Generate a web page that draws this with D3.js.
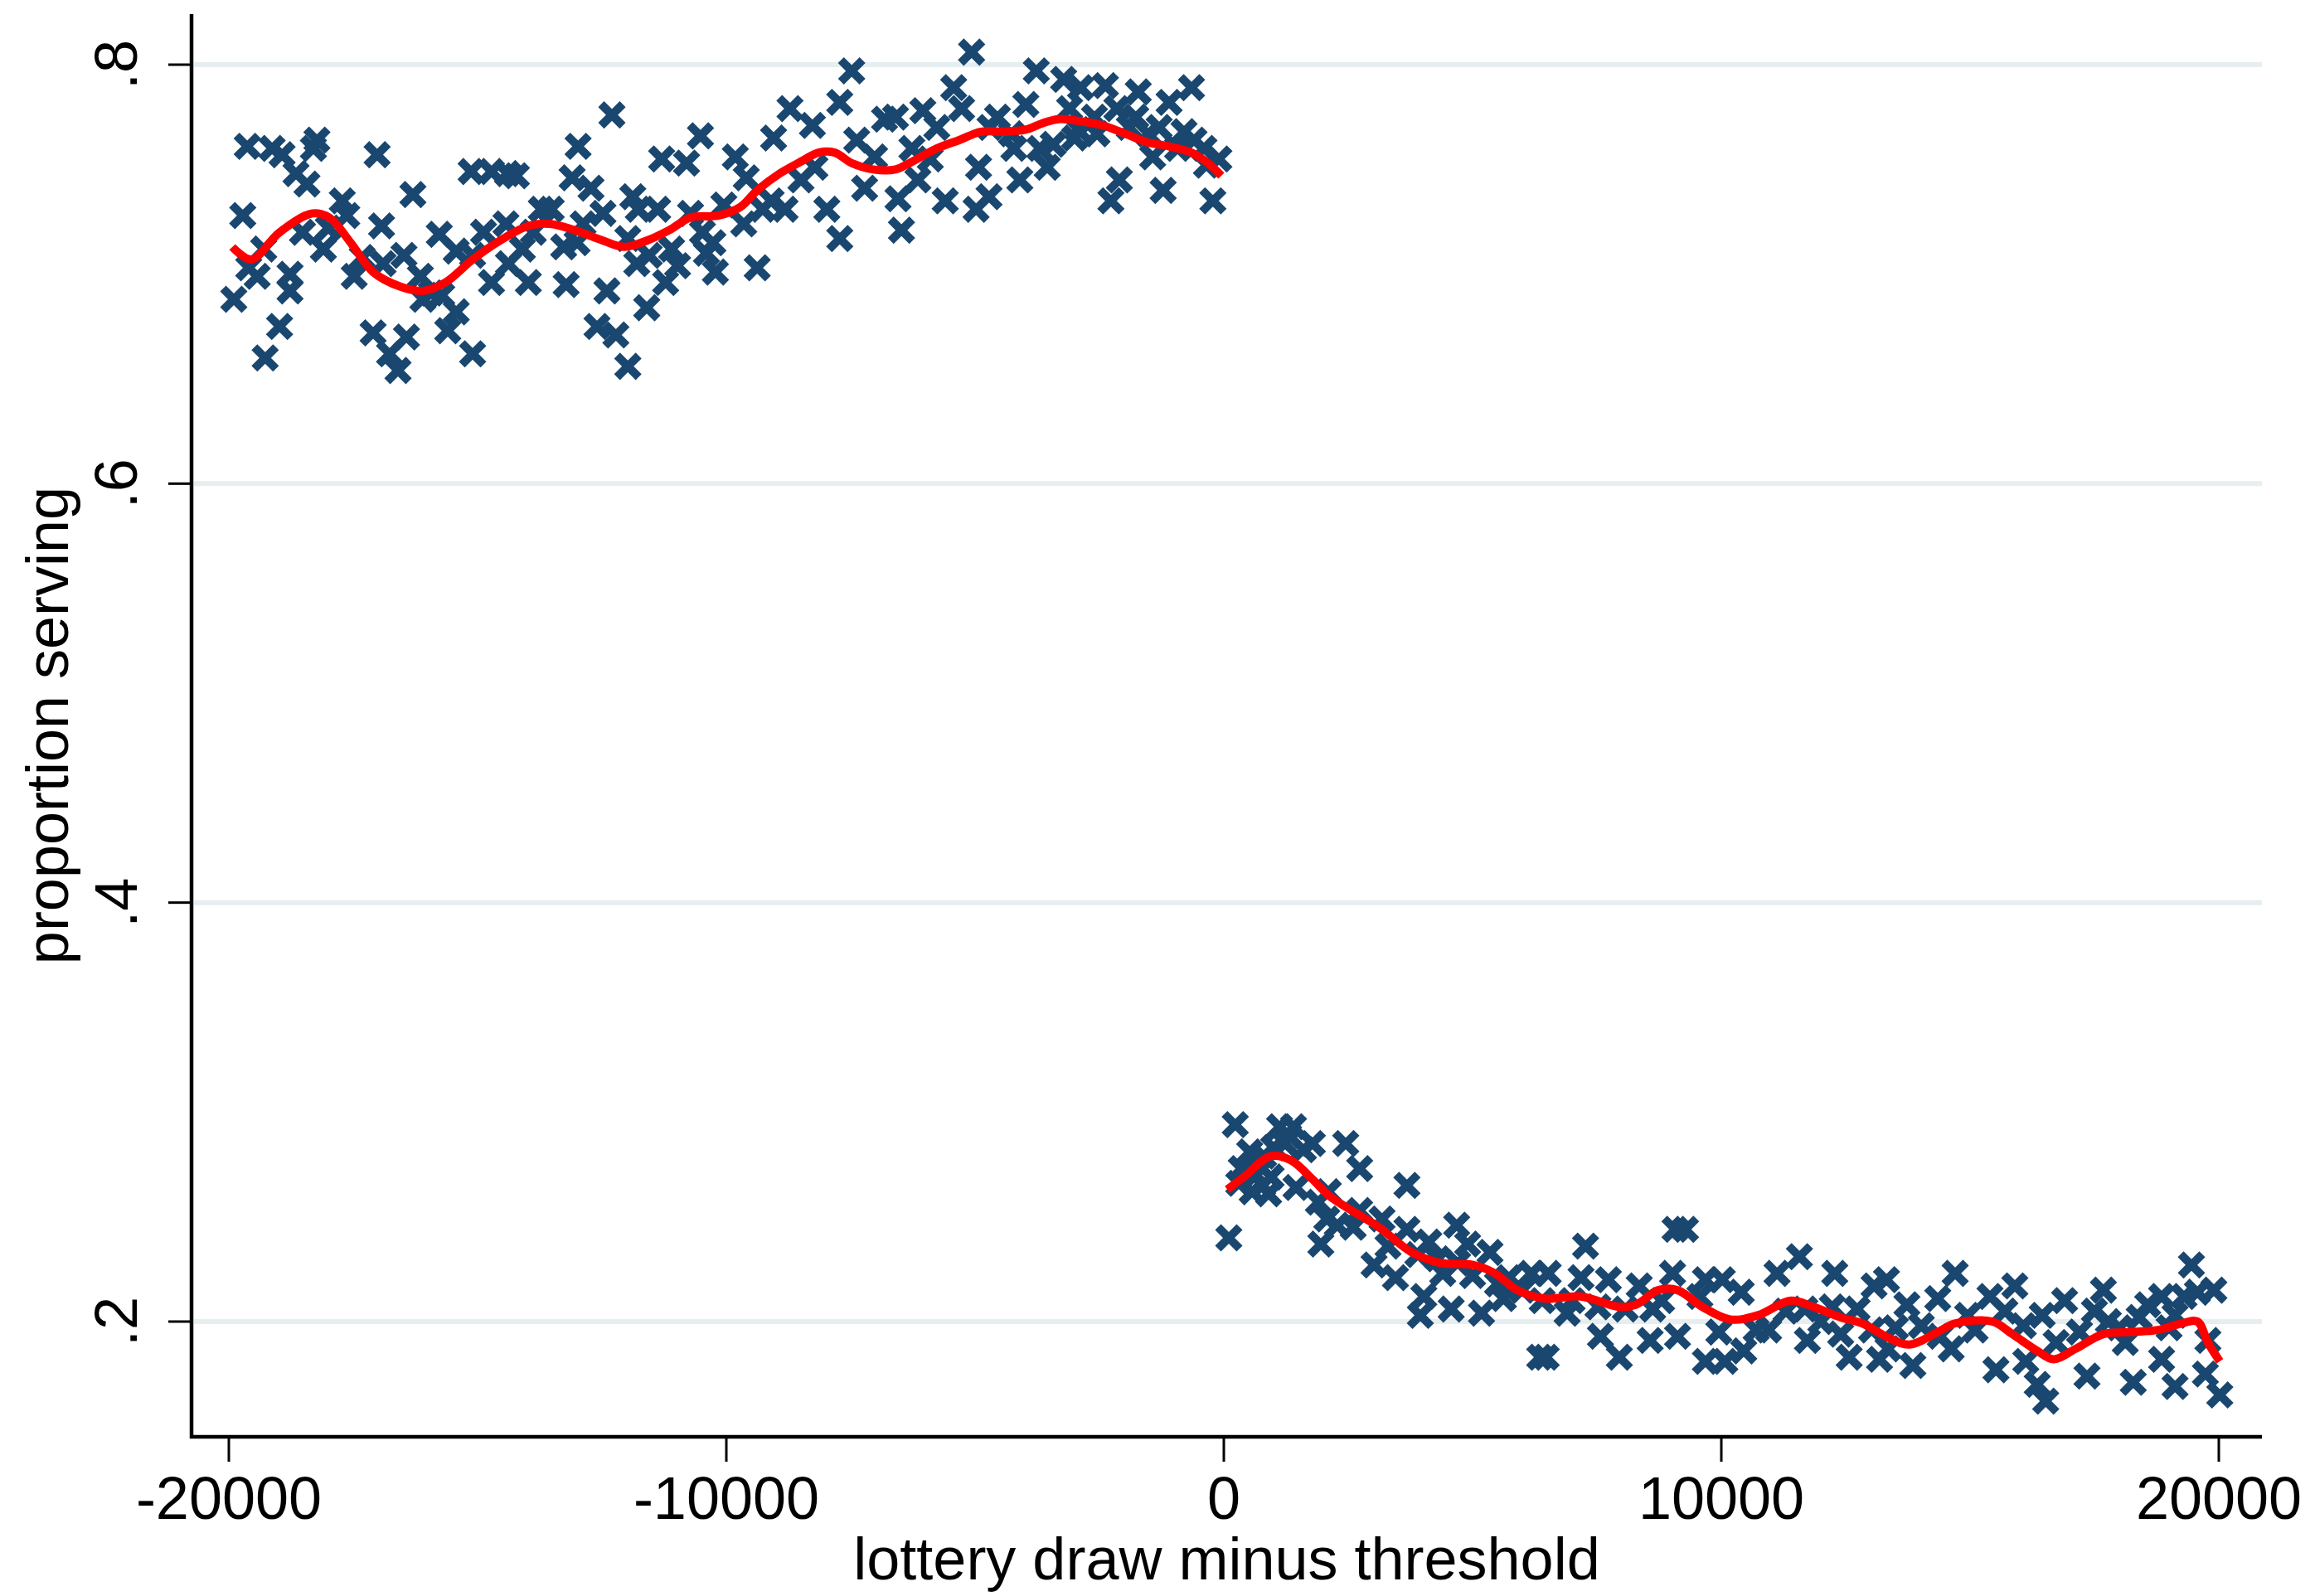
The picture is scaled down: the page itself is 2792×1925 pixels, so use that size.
<!DOCTYPE html>
<html>
<head>
<meta charset="utf-8">
<title>proportion serving vs lottery draw</title>
<script src="https://cdn.jsdelivr.net/npm/d3@7"></script>
<style>
  html, body { margin: 0; padding: 0; background: #fff; }
  svg text { font-family: "Liberation Sans", Arial, sans-serif; fill: #000; }
</style>
</head>
<body>
<svg id="chart" width="2792" height="1925"></svg>
<script>
// ticks
var xTicks = [-20000, -10000, 0, 10000, 20000];
var yTicks = [0.2, 0.4, 0.6, 0.8];
var yTickLabels = ['.2', '.4', '.6', '.8'];

// binned means, left of threshold [x, proportion]
var leftBins = [
  [-19630,0.761],[-19130,0.760],[-18930,0.757],[-18230,0.764],[-18300,0.760],[-18650,0.748],[-18430,0.743],
  [-19720,0.728],[-17020,0.757],[-16300,0.738],[-15130,0.749],[-14720,0.749],[-14400,0.748],[-14220,0.747],
  [-17720,0.735],[-17630,0.728],[-16930,0.723],[-18100,0.712],[-18520,0.720],[-17320,0.708],[-17480,0.699],
  [-16480,0.709],[-16150,0.699],[-15930,0.691],[-15770,0.719],[-15430,0.711],[-14880,0.720],[-14430,0.724],
  [-13720,0.731],[-13880,0.720],[-14380,0.705],[-14720,0.696],[-13980,0.696],[-19600,0.703],[-19430,0.699],
  [-19900,0.688],[-18770,0.700],[-18770,0.692],[-18980,0.675],[-19270,0.660],[-17100,0.672],[-16770,0.662],
  [-16600,0.654],[-16430,0.670],[-15600,0.673],[-15430,0.682],[-15100,0.662],[-16100,0.688],[-15720,0.690],
  [-15100,0.709],
  [-12300,0.776],[-12980,0.761],[-13100,0.746],[-12720,0.741],[-13520,0.731],[-13270,0.713],[-12480,0.729],
  [-12880,0.724],[-11880,0.737],[-11770,0.731],[-11380,0.731],[-11300,0.755],[-10800,0.753],[-10520,0.766],
  [-11980,0.717],[-11550,0.709],[-11100,0.712],[-11220,0.696],[-10980,0.704],[-10720,0.729],[-10480,0.720],
  [-10270,0.715],[-10050,0.733],[-10220,0.701],[-9820,0.756],[-9600,0.746],[-9650,0.724],[-9380,0.703],
  [-9270,0.731],[-9050,0.765],[-8820,0.731],[-8720,0.779],[-8270,0.771],[-8220,0.751],[-7980,0.731],
  [-7720,0.717],[-7720,0.782],[-7480,0.797],[-7380,0.764],[-7220,0.741],[-6820,0.774],[-13220,0.695],
  [-12400,0.692],[-12600,0.675],[-12220,0.671],[-11980,0.656],[-11600,0.684],
  [-5070,0.806],[-3770,0.797],[-3220,0.793],[-2880,0.789],[-2380,0.790],[-1720,0.787],[-650,0.789],
  [-1100,0.782],[-5430,0.789],[-5270,0.779],[-6050,0.778],[-5770,0.770],[-6600,0.775],[-4550,0.775],
  [-3980,0.781],[-3430,0.762],[-2930,0.769],[-2550,0.767],[-2150,0.779],[-1770,0.775],[-1430,0.756],
  [-930,0.760],[-600,0.764],[-100,0.755],[-1220,0.740],[-220,0.735],[-2270,0.735],[-2100,0.745],
  [-4930,0.751],[-4220,0.760],[-4100,0.745],[-3550,0.751],[-4720,0.737],[-4980,0.731],[-5600,0.735],
  [-6150,0.745],[-6550,0.736],[-6480,0.721],[-6270,0.760],[-3100,0.779],[-1520,0.767],[-7020,0.756],
  [-350,0.752],[-4270,0.767],
  [-3000,0.765],[-2600,0.775],[-1900,0.770],[-1300,0.770],[-800,0.768],[-400,0.760],[-4700,0.770],
  [-5900,0.755],[-3700,0.760],[-8500,0.745],[-9100,0.735],[-10400,0.710],[-11800,0.705],[-13000,0.715],
  [-14100,0.712],[-16900,0.705],[-18000,0.722],[-19300,0.712]
];

// binned means, right of threshold
var rightBins = [
  [230,0.294],[100,0.240],[520,0.281],[350,0.273],[570,0.262],[780,0.265],[1120,0.293],[1400,0.293],
  [1230,0.285],[1780,0.285],[950,0.269],[1450,0.264],[2450,0.285],[2730,0.273],[1900,0.257],[2280,0.246],
  [1950,0.237],[3180,0.249],[3680,0.265],[3020,0.227],[3450,0.221],[3680,0.244],[4120,0.238],[4680,0.246],
  [4900,0.237],[5350,0.233],[4400,0.223],[4020,0.212],[3950,0.203],[4570,0.206],[5180,0.204],[5620,0.211],
  [5730,0.221],[6180,0.223],[6400,0.210],[6350,0.183],[900,0.261],[2730,0.253],[2070,0.249],
  [7270,0.236],[9070,0.244],[9280,0.244],[6520,0.223],[7180,0.221],[7730,0.220],[8350,0.217],[9020,0.223],
  [6900,0.204],[7520,0.207],[8070,0.206],[8620,0.206],[7570,0.193],[7950,0.183],[8570,0.191],[9120,0.193],
  [6480,0.183],[9680,0.220],[10020,0.220],[9950,0.195],[9680,0.181],[10070,0.181],[10450,0.186],
  [10950,0.196],[11120,0.223],[11570,0.231],[11680,0.206],[11730,0.191],[12280,0.223],[12230,0.207],
  [12400,0.194],[12570,0.183],[13070,0.217],[13020,0.196],[13180,0.182],[10400,0.214],[9570,0.212],
  [12730,0.206],
  [13320,0.220],[14700,0.223],[14350,0.211],[14020,0.198],[13350,0.187],[13850,0.179],[14620,0.187],
  [14950,0.203],[15400,0.212],[15900,0.217],[15520,0.177],[16120,0.181],[16350,0.170],[16520,0.162],
  [16450,0.203],[16900,0.210],[17350,0.174],[17680,0.215],[17780,0.200],[18120,0.190],[18280,0.171],
  [18570,0.208],[18850,0.212],[18850,0.182],[19120,0.169],[19450,0.227],[19900,0.215],[19780,0.191],
  [19730,0.175],[20020,0.165],[19120,0.203],[13730,0.208],[16070,0.198],[16730,0.190],[18400,0.202],
  [19570,0.214],
  [300,0.266],[650,0.270],[800,0.279],[1000,0.283],[1300,0.289],[1600,0.282],[2100,0.262],[2600,0.245],
  [3300,0.236],[3900,0.232],[4300,0.230],[4700,0.228],[5000,0.222],[5500,0.218],[6000,0.215],[7000,0.210],
  [8800,0.210],[10700,0.196],[11300,0.205],[12000,0.200],[13500,0.197],[14400,0.193],[15100,0.196],
  [15700,0.205],[17200,0.195],[17500,0.205],[18000,0.197],[19000,0.197],[19300,0.212]
];

// smoothed fits on each side
var leftFit = [
  [-19930,0.713],[-19550,0.707],[-18980,0.720],[-18320,0.729],[-17980,0.727],[-17550,0.715],[-17100,0.701],
  [-16550,0.694],[-16100,0.692],[-15650,0.696],[-15100,0.707],[-14550,0.716],[-13980,0.723],[-13550,0.724],
  [-13050,0.721],[-12480,0.716],[-12050,0.713],[-11600,0.716],[-11150,0.721],[-10720,0.727],[-10150,0.728],
  [-9720,0.732],[-9380,0.740],[-8930,0.748],[-8480,0.754],[-8150,0.758],[-7820,0.758],[-7480,0.753],
  [-7050,0.750],[-6600,0.750],[-6320,0.753],[-5770,0.760],[-5320,0.764],[-4880,0.768],[-4430,0.768],
  [-3980,0.769],[-3650,0.772],[-3320,0.774],[-2880,0.773],[-2430,0.771],[-1980,0.767],[-1550,0.763],
  [-1100,0.761],[-650,0.758],[-320,0.753],[-50,0.747]
];
var rightFit = [
  [70,0.263],[400,0.269],[950,0.279],[1350,0.277],[1780,0.268],[2120,0.260],[2570,0.253],[3120,0.245],
  [3780,0.233],[4350,0.228],[5020,0.227],[5450,0.223],[5900,0.215],[6450,0.211],[7180,0.212],[7950,0.207],
  [8280,0.208],[8730,0.215],[9120,0.215],[9620,0.207],[10180,0.201],[10730,0.203],[11400,0.210],
  [11850,0.207],[12400,0.202],[12850,0.199],[13300,0.193],[13780,0.189],[14350,0.195],[14680,0.199],
  [15450,0.200],[15850,0.194],[16350,0.186],[16680,0.182],[17120,0.187],[17680,0.194],[18230,0.195],
  [18780,0.196],[19230,0.199],[19570,0.200],[19780,0.190],[20020,0.181]
];

var svg = d3.select('#chart');

var plotLeft = 231, plotRight = 2728, plotTop = 17, plotBottom = 1733;

var x = d3.scaleLinear().domain([-20000, 20000]).range([276, 2676]);
var y = d3.scaleLinear().domain([0.2, 0.8]).range([1594, 78]);

// gridlines
svg.append('g')
  .selectAll('line')
  .data(yTicks)
  .join('line')
  .attr('x1', plotLeft + 3)
  .attr('x2', plotRight)
  .attr('y1', d => y(d))
  .attr('y2', d => y(d))
  .attr('stroke', '#e6eef0')
  .attr('stroke-width', 6);

// X markers
var s = 13;
var cross = 'M' + (-s) + ',' + (-s) + 'L' + s + ',' + s + 'M' + (-s) + ',' + s + 'L' + s + ',' + (-s);

svg.append('g')
  .selectAll('path')
  .data(leftBins.concat(rightBins))
  .join('path')
  .attr('transform', d => 'translate(' + x(d[0]) + ',' + y(d[1]) + ')')
  .attr('d', cross)
  .attr('stroke', '#1a476f')
  .attr('stroke-width', 10)
  .attr('fill', 'none');

// fitted lines
var line = d3.line()
  .x(d => x(d[0]))
  .y(d => y(d[1]))
  .curve(d3.curveCatmullRom.alpha(0.5));

[leftFit, rightFit].forEach(function (fit) {
  svg.append('path')
    .datum(fit)
    .attr('d', line)
    .attr('fill', 'none')
    .attr('stroke', '#ff0000')
    .attr('stroke-width', 10)
    .attr('stroke-linejoin', 'round');
});

// axes
var xAxis = svg.append('g').attr('transform', 'translate(0,' + plotBottom + ')');
xAxis.append('line')
  .attr('x1', plotLeft - 2).attr('x2', plotRight)
  .attr('stroke', '#000').attr('stroke-width', 4.5);
xAxis.selectAll('.tick')
  .data(xTicks)
  .join('line')
  .attr('x1', d => x(d)).attr('x2', d => x(d))
  .attr('y1', 0).attr('y2', 30)
  .attr('stroke', '#000').attr('stroke-width', 3);
xAxis.selectAll('text')
  .data(xTicks)
  .join('text')
  .attr('x', d => x(d))
  .attr('y', 99)
  .attr('text-anchor', 'middle')
  .attr('font-size', 72)
  .text(d => d);

var yAxis = svg.append('g').attr('transform', 'translate(' + plotLeft + ',0)');
yAxis.append('line')
  .attr('y1', plotTop).attr('y2', plotBottom + 2)
  .attr('stroke', '#000').attr('stroke-width', 4.5);
yAxis.selectAll('.tick')
  .data(yTicks)
  .join('line')
  .attr('y1', d => y(d)).attr('y2', d => y(d))
  .attr('x1', -28).attr('x2', 0)
  .attr('stroke', '#000').attr('stroke-width', 3);
yAxis.selectAll('text')
  .data(yTicks)
  .join('text')
  .attr('transform', d => 'translate(-66,' + y(d) + ') rotate(-90)')
  .attr('text-anchor', 'middle')
  .attr('font-size', 72)
  .text((d, i) => yTickLabels[i]);

// axis titles
svg.append('text')
  .attr('x', (plotLeft + plotRight) / 2)
  .attr('y', 1905)
  .attr('text-anchor', 'middle')
  .attr('font-size', 72)
  .text('lottery draw minus threshold');

svg.append('text')
  .attr('transform', 'translate(82,' + (plotTop + plotBottom) / 2 + ') rotate(-90)')
  .attr('text-anchor', 'middle')
  .attr('font-size', 72)
  .text('proportion serving');
</script>
</body>
</html>
